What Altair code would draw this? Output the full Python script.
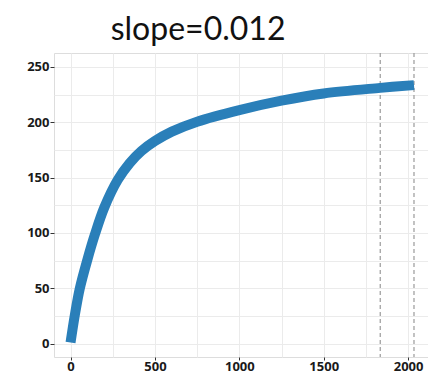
import altair as alt
import pandas as pd

x_vals = [0, 25, 55, 100, 145, 200, 280, 350, 420, 500, 600, 750, 1000, 1250, 1500, 1835, 2035]
y_vals = [1, 25.5, 50, 76, 99, 123, 148, 163, 174, 183, 191.5, 200.5, 211, 219.5, 226, 231, 233.5]
vlines = [1835, 2035]
title_text = "slope=0.012"

df = pd.DataFrame({"x": x_vals, "y": y_vals})
dv = pd.DataFrame({"x": vlines})

x_grid = list(range(0, 2001, 250))
y_grid = list(range(0, 251, 25))

xscale = alt.Scale(domain=[-98, 2118], nice=False, zero=False)
yscale = alt.Scale(domain=[-12, 262.5], nice=False, zero=False)

label_kw = dict(labelFont="Open Sans", labelFontWeight="bold", labelFontSize=13,
                labelColor="#1a1a1a", domain=False, gridColor="#ebebeb", gridWidth=1,
                tickColor="#333333", format="d")

xaxis = alt.Axis(values=x_grid, title=None, tickSize=3, labelPadding=0,
                 labelExpr="datum.value % 500 == 0 ? datum.label : ''",
                 tickOpacity={"condition": {"test": "datum.value % 500 != 0", "value": 0}, "value": 1},
                 **label_kw)
yaxis = alt.Axis(values=y_grid, title=None, tickSize=4, labelPadding=1,
                 labelExpr="datum.value % 50 == 0 ? datum.label : ''",
                 tickOpacity={"condition": {"test": "datum.value % 50 != 0", "value": 0}, "value": 1},
                 **label_kw)

line = alt.Chart(df).mark_line(color="#2a7fb9", strokeWidth=10, interpolate="catmull-rom").encode(
    x=alt.X("x:Q", scale=xscale, axis=xaxis),
    y=alt.Y("y:Q", scale=yscale, axis=yaxis),
)

rules = alt.Chart(dv).mark_rule(color="#9a9a9a", strokeWidth=1.2, strokeDash=[4, 3]).encode(
    x=alt.X("x:Q", scale=xscale),
)

chart = alt.layer(rules, line).properties(
    width=374, height=304,
    padding={"left": 46, "top": 45, "right": 0, "bottom": 18},
    autosize=alt.AutoSizeParams(type="none"),
    title=alt.TitleParams(title_text, anchor="start", dx=84, offset=5,
                          font="Lato", fontSize=32, fontWeight="normal", color="#111111"),
).configure_view(stroke="#aaaaaa", strokeWidth=1.2).configure(background="white")

chart.save("out.html", embed_options={"renderer": "svg", "actions": False})
